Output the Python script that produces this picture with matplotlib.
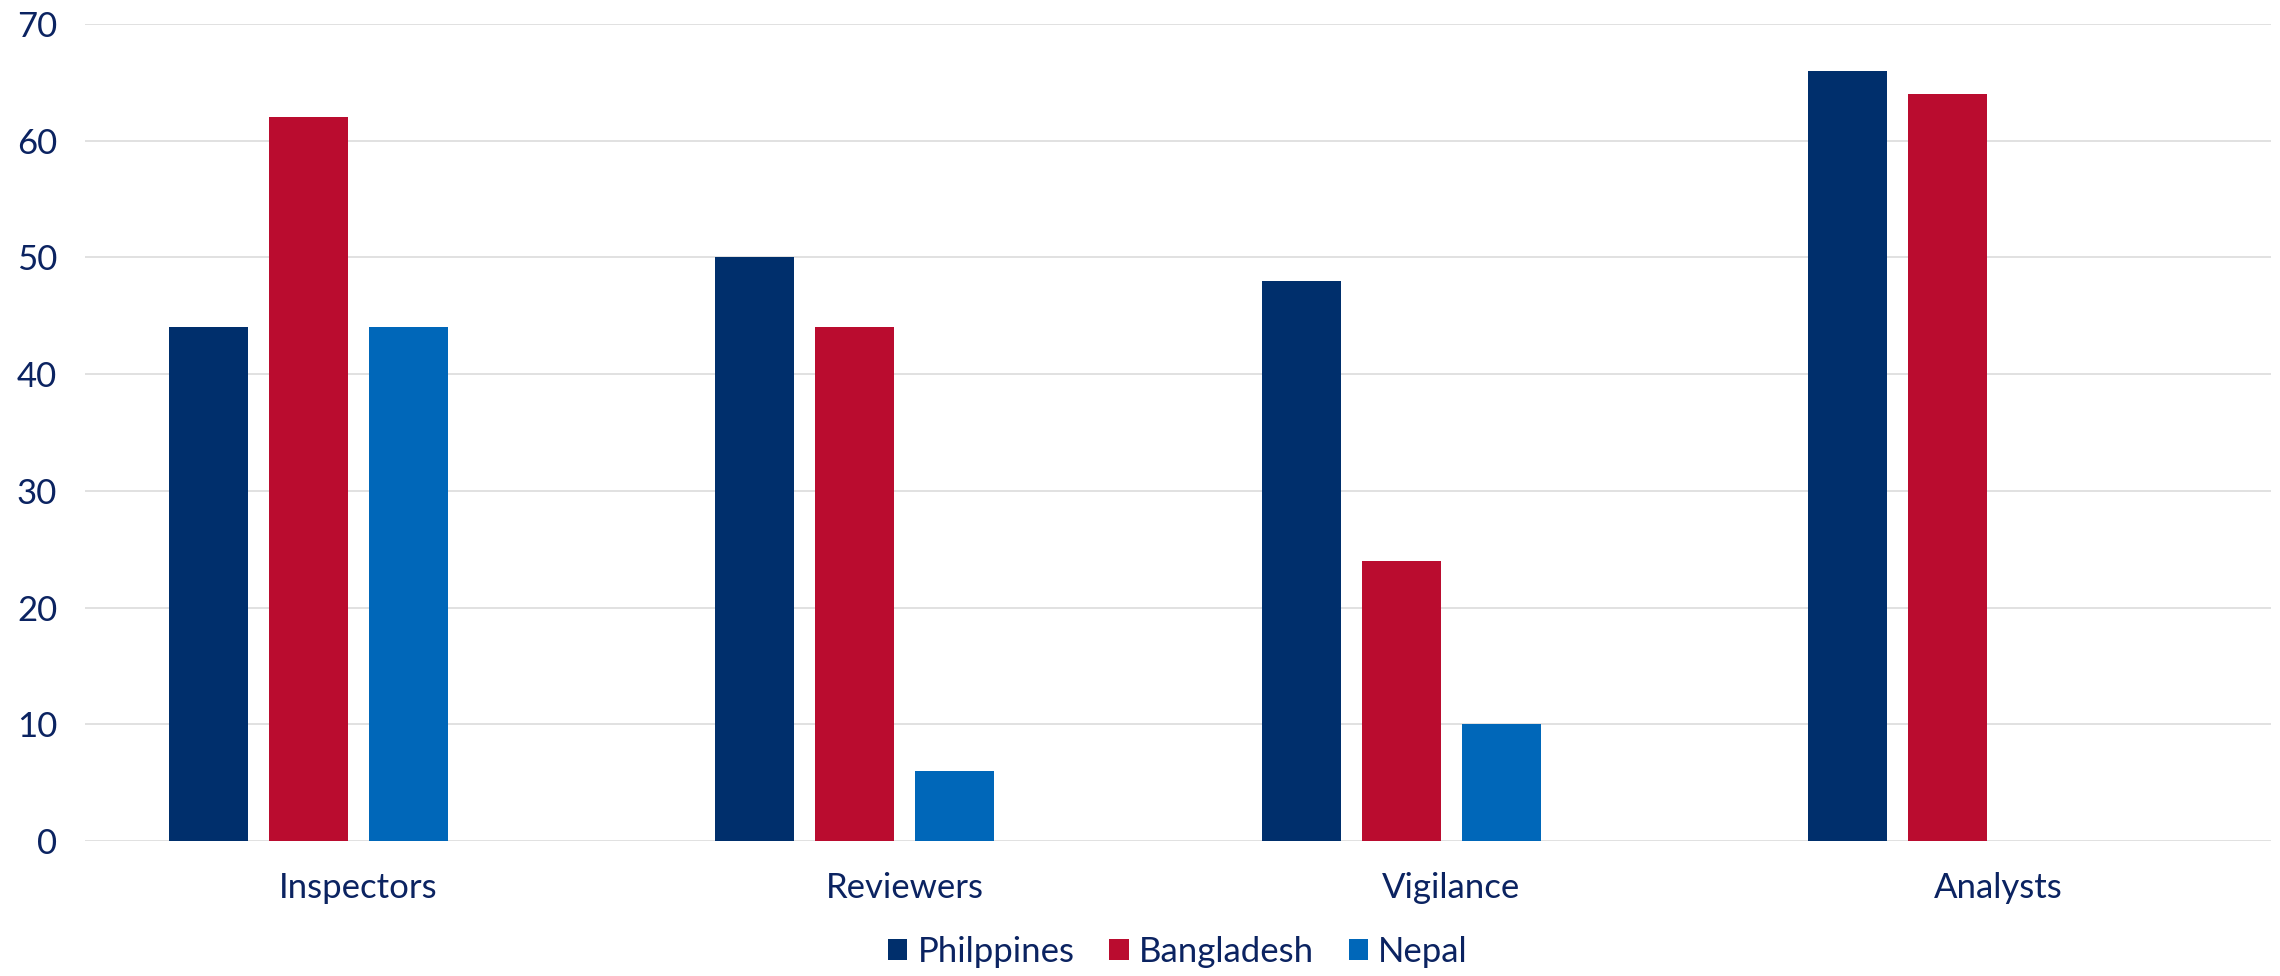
import matplotlib
matplotlib.use("Agg")
import matplotlib.pyplot as plt
import numpy as np

categories = ["Inspectors", "Reviewers", "Vigilance", "Analysts"]
series_names = ["Philppines", "Bangladesh", "Nepal"]
philippines = [44, 50, 48, 66]
bangladesh = [62, 44, 24, 64]
nepal = [44, 6, 10, 0]
colors = ["#002F6C", "#BA0C2F", "#0067B9"]
y_ticks = [0, 10, 20, 30, 40, 50, 60, 70]

text_color = "#0B2361"
plt.rcParams['font.family'] = ['Lato', 'DejaVu Sans']

fig = plt.figure(figsize=(22.8, 9.76), dpi=100)
ax = fig.add_axes([0.0373, 0.1383, 0.9588, 0.8371])

x = np.arange(len(categories))
step = 0.183
width = 0.1446
# the source chart leaves room for a fourth (empty) series in each group
offsets = np.array([-1.5, -0.5, 0.5]) * step
for vals, off, c, name in zip([philippines, bangladesh, nepal], offsets, colors, series_names):
    ax.bar(x + off, vals, width=width, color=c, label=name, zorder=3)

ax.set_xlim(-0.5, len(categories) - 0.5)
ax.set_ylim(0, 70)
ax.set_yticks(y_ticks)
ax.set_xticks(x)
ax.set_xticklabels(categories)
ax.yaxis.grid(True, color="#D9D9D9", linewidth=1.1, zorder=0)
ax.set_axisbelow(True)
for s in ax.spines.values():
    s.set_visible(False)
ax.tick_params(axis="both", length=0, labelsize=25, labelcolor=text_color)
ax.tick_params(axis="y", pad=20)
ax.tick_params(axis="x", pad=22)

leg = ax.legend(loc="upper center", bbox_to_anchor=(0.5, -0.078), ncol=3, frameon=False,
                fontsize=25, handlelength=0.55, handleheight=0.55,
                handletextpad=0.3, columnspacing=1.0)
for t in leg.get_texts():
    t.set_color(text_color)

fig.savefig("out.png", dpi=100)
